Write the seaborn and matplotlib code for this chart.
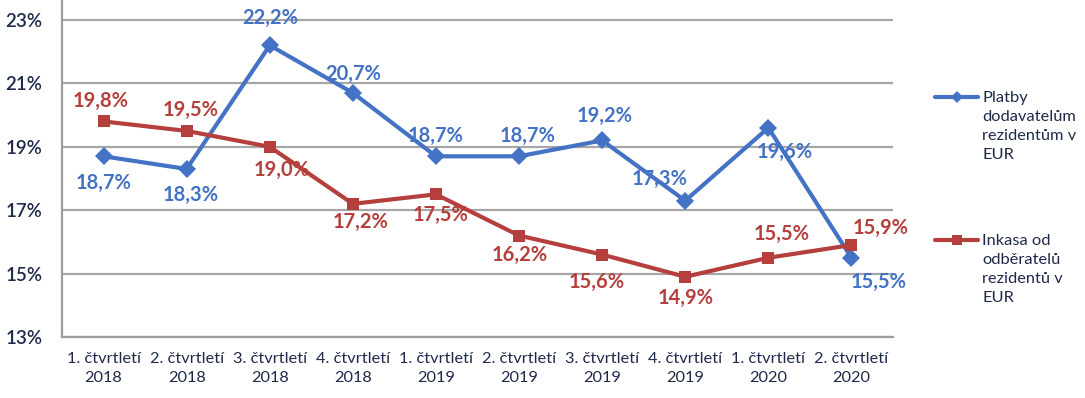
import numpy as np
import pandas as pd
import seaborn as sns
import matplotlib.pyplot as plt
from matplotlib.lines import Line2D
from matplotlib.ticker import FuncFormatter

# data
quarters = ["1. čtvrtletí\n2018", "2. čtvrtletí\n2018", "3. čtvrtletí\n2018", "4. čtvrtletí\n2018",
            "1. čtvrtletí\n2019", "2. čtvrtletí\n2019", "3. čtvrtletí\n2019", "4. čtvrtletí\n2019",
            "1. čtvrtletí\n2020", "2. čtvrtletí\n2020"]
platby = [18.7, 18.3, 22.2, 20.7, 18.7, 18.7, 19.2, 17.3, 19.6, 15.5]
inkasa = [19.8, 19.5, 19.0, 17.2, 17.5, 16.2, 15.6, 14.9, 15.5, 15.9]
series_names = ["Platby\ndodavatelům\nrezidentům v\nEUR", "Inkasa od\nodběratelů\nrezidentů v\nEUR"]
yticks = [13, 15, 17, 19, 21, 23]

BLUE = "#4472C4"
RED = "#B43F3C"
NAVY = "#1F2A4A"

df = pd.DataFrame({
    "x": list(range(len(quarters))) * 2,
    "value": platby + inkasa,
    "series": [series_names[0]] * len(platby) + [series_names[1]] * len(inkasa),
})

sns.set_style("white")
plt.rcParams["font.family"] = ["Lato", "DejaVu Sans"]

fig = plt.figure(figsize=(10.85, 3.98), dpi=100)
ax = fig.add_axes([62 / 1085, 1 - 337 / 398, (893 - 62) / 1085, 337 / 398])

palette = {series_names[0]: BLUE, series_names[1]: RED}
markers = {series_names[0]: "D", series_names[1]: "s"}
sns.lineplot(data=df, x="x", y="value", hue="series", style="series",
             palette=palette, markers=markers, dashes=False, linewidth=3.0,
             markersize=9, markeredgewidth=0, legend=False, ax=ax, zorder=3)

ax.set_xlim(-0.5, len(quarters) - 0.5)
ax.set_ylim(13, 23.63)
ax.set_yticks(yticks)
ax.yaxis.set_major_formatter(FuncFormatter(lambda v, p: f"{v:.0f}%"))
ax.set_xticks(range(len(quarters)))
ax.set_xticklabels(quarters, fontsize=11.8, color=NAVY, linespacing=1.4)
ax.tick_params(axis="y", labelsize=13.5, colors=NAVY, length=0, pad=14)
ax.tick_params(axis="x", length=0, pad=11)
for lbl in ax.get_yticklabels():
    lbl.set_fontweight("semibold")
ax.set_xlabel("")
ax.set_ylabel("")
ax.grid(axis="y", color="#A6A6A6", linewidth=1.6)
ax.grid(axis="x", visible=False)
for s in ["top", "right"]:
    ax.spines[s].set_visible(False)
for s in ["left", "bottom"]:
    ax.spines[s].set_color("#9E9E9E")
    ax.spines[s].set_linewidth(1.6)

# data labels (offsets in pixels)
off_blue = [(0, -27), (4, -26), (0, 27), (0, 19), (0, 20), (9, 20), (3, 24), (-26, 22), (16, -24), (27, -24)]
off_red = [(-3, 20), (4, 21), (12, -23), (8, -18), (5, -21), (1, -19), (-5, -27), (0, -21), (13, 24), (29, 17)]
for vals, offs, col in [(platby, off_blue, BLUE), (inkasa, off_red, RED)]:
    for i, (v, o) in enumerate(zip(vals, offs)):
        ax.annotate(f"{v:.1f}%".replace(".", ","), (i, v), xytext=o, textcoords="offset pixels",
                    ha="center", va="center", fontsize=14.5, fontweight="bold", color=col, zorder=4)

# legend on the right
for name, col, mk, yh in [(series_names[0], BLUE, "D", 97), (series_names[1], RED, "s", 240)]:
    yf = 1 - yh / 398
    fig.add_artist(Line2D([935 / 1085, 978 / 1085], [yf, yf], color=col, linewidth=3.0,
                          transform=fig.transFigure))
    fig.add_artist(Line2D([956.5 / 1085], [yf], color=col, marker=mk, markersize=6.5,
                          markeredgewidth=0, transform=fig.transFigure))
    fig.text(982 / 1085, 1 - (yh - 6) / 398, name, ha="left", va="top", fontsize=11.8,
             color=NAVY, linespacing=1.45)

fig.savefig("out.png", dpi=100)
